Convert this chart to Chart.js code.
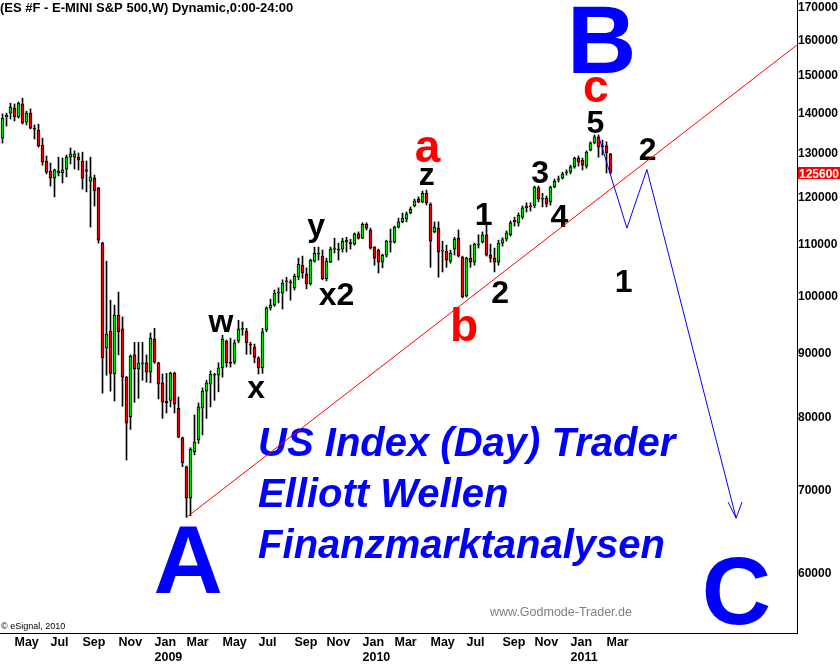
<!DOCTYPE html>
<html>
<head>
<meta charset="utf-8">
<title>E-MINI S&amp;P 500 Wochenchart</title>
<script src="https://cdn.jsdelivr.net/npm/chart.js@4.4.0/dist/chart.umd.min.js"></script>
<style>
  body { margin: 0; background: #fff; }
  #wrap { width: 840px; height: 664px; }
</style>
</head>
<body>
<div id="wrap"><canvas id="myChart" width="840" height="664"></canvas></div>
<script>
// Wochenkerzen, erste Kerze = Woche vom 14.04.2008
const startWoche = Date.UTC(2008, 3, 14);

const opens = [
  133800,139100,140100,141400,139100,142500,137800,140100,136100,135800,
  132100,128300,125900,124300,125500,125500,126400,129200,129200,129200,
  128300,126200,123600,124300,122100,110300,90900,93800,86700,96600,
  94200,86200,80100,89800,87500,88300,88500,87000,92400,88500,
  85300,82500,82600,86800,81400,77100,73100,69000,75100,76800,
  81400,84000,85100,86500,86500,87700,92100,88500,88600,92100,
  94100,93800,91600,91100,89300,87700,94000,97900,98400,100600,
  100600,102700,102700,101600,103600,105900,104200,102300,106700,108100,
  107700,103300,106500,109100,109100,109100,110500,110300,110100,112200,
  111300,114200,113000,109500,108900,106500,107900,110500,110500,113600,
  114700,115300,116600,118100,119600,119000,120900,118500,112600,113400,
  108700,108700,106700,109100,111300,107500,100100,107300,106500,109900,
  110500,112000,107900,107300,106500,110300,111100,112000,115100,114500,
  115700,117700,118100,118100,122100,119600,119800,119000,122300,123900,
  124300,125500,125700,126900,129000,128500,127100,130900,132600,134100,
  131900,131900,130000
];
const highs = [
  139900,140100,142700,142500,143000,144000,140600,141200,137100,137300,
  133800,129500,127800,126400,129200,129000,129700,131400,130700,130200,
  130400,128300,129200,125000,122200,110500,106700,99300,98400,100800,
  96300,86300,89800,91900,91900,91900,89800,93500,94300,88600,
  86700,86800,87000,87000,83100,77200,73200,75700,80400,82200,
  84500,85700,87200,86800,88500,93100,92300,92600,92300,95700,
  95400,94300,91900,91600,89500,94300,98100,99500,101200,101600,
  103100,103600,103100,104200,107300,107700,105400,107100,109500,109500,
  108900,107300,109500,111300,110300,111300,111500,111100,112400,112600,
  114500,114500,113400,109600,109100,108100,110900,113200,113800,115500,
  116600,116800,117900,119600,120100,121400,121600,118800,114700,114700,
  110700,109900,108900,111500,113000,107700,107500,109900,110300,112000,
  112600,114000,110100,109300,110900,111400,112800,114900,115700,116600,
  118100,118800,118800,122500,122500,120900,120300,122500,124100,124800,
  125700,126200,127300,129200,129500,129000,130700,132900,134600,134600,
  133300,132900,130100
];
const lows = [
  132600,136800,138600,138100,138800,137300,137100,136100,133600,131600,
  127300,125300,122500,120100,124800,123200,124600,127600,126400,126200,
  121800,121200,113600,118100,110300,83700,86500,84000,82500,89800,
  81700,74000,78300,82300,82900,85700,85400,85300,88400,82800,
  79900,80700,81600,80700,77100,73100,66600,66800,74700,76300,
  77500,79900,81600,82600,83900,86200,87800,87800,88300,91800,
  93100,89900,89900,88500,86700,86800,93700,97500,98200,98800,
  97700,101000,99300,101200,103100,103400,101400,102100,106500,106900,
  103100,102900,106400,108300,106900,108500,108500,109100,109900,111100,
  111200,113000,109100,105900,104400,105400,107500,108500,110300,113400,
  114500,114700,116400,117900,118800,118800,118300,105500,112400,103600,
  104600,105500,106300,107900,107500,99700,99900,105500,105900,109300,
  110300,107700,106500,104600,105900,109700,110700,111700,113800,113800,
  115300,116800,117000,117700,119000,117900,117900,118300,122100,123400,
  124100,125000,125300,126600,127100,126200,126600,130700,132400,129200,
  129700,125500,125300
];
const closes = [
  138800,139600,141700,139100,142700,137600,140100,136300,136000,131900,
  128000,125700,124300,126200,125900,126200,129200,130000,130000,128500,
  124300,125900,124600,121400,110900,89300,93300,86800,96600,93700,
  86200,79200,89600,87500,88500,88500,87000,92600,88600,85100,
  82300,82200,86800,82000,77200,73600,69000,75500,76500,81600,
  84000,85300,86700,86700,87700,92400,88500,88400,91800,94200,
  94200,91800,91400,89400,87700,93700,97900,98400,100600,100800,
  102500,102900,102500,103800,106100,104400,102300,106900,108300,108300,
  103300,106700,109100,109300,108900,110700,110900,110200,112200,111300,
  114200,113400,109300,107300,106500,107900,110700,110700,113600,114700,
  115500,116400,117400,119200,119000,120900,118800,110700,113600,108500,
  108900,106900,108300,111100,107700,99900,107300,106500,110100,110100,
  112000,107900,107300,106500,110300,111000,112400,114500,114700,116100,
  117700,118100,117900,122300,119600,119800,118500,122300,123600,124100,
  125300,125700,126900,129000,128000,127300,130400,132600,134100,131600,
  131700,130200,125600
];

// Achsen
const yTicks = [60000,70000,80000,90000,100000,110000,120000,130000,140000,150000,160000,170000];
const monatNamen = ["May","Jul","Sep","Nov","Jan","Mar","May","Jul","Sep","Nov","Jan","Mar","May","Jul","Sep","Nov","Jan","Mar"];
const monatNr    = [4,6,8,10,0,2,4,6,8,10,0,2,4,6,8,10,0,2];
const monatJahr  = [2008,2008,2008,2008,2009,2009,2009,2009,2009,2009,2010,2010,2010,2010,2010,2010,2011,2011];

// Elliott-Zaehlung (x = Wochenindex, y = Kurs)
const welleText = ["A","B","C","a","b","c","5","z","y","x2","w","x","1","2","3","4","2","1"];
const welleX = [46.4,149.8,183.5,106.25,115.4,148.3,148.2,106.05,78.4,83.5,54.6,63.4,120.3,124.4,134.4,139.25,161.3,155.3];
const welleY = [57900,150900,54730,128100,92110,143000,135000,122730,111750,98420,93710,82940,114030,98730,123260,113540,128510,100810];
const welleArt = ["gross","gross","gross","abc","abc","abc","klein","klein","klein","klein","klein","klein","klein","klein","klein","klein","klein","klein"];

const werbeText = ["US Index (Day) Trader","Elliott Wellen","Finanzmarktanalysen"];
const werbeX = [63.9,63.9,63.9];
const werbeY = [74550,67870,61790];

// Trendlinie und Prognose
const trendX = [46, 198.6];
const trendY = [66600, 158800];
const prognoseX = [149.05, 156.1, 161.1, 183.4];
const prognoseY = [134200, 113400, 126300, 66500];
const pfeilX = [181.4, 183.4, 184.9];
const pfeilY = [68500, 66500, 68500];

const letzterKurs = closes[closes.length - 1];

// Monatsticks: erster Montag im Monat
const monatTicks = monatNr.map(function (m, i) {
  const d = new Date(Date.UTC(monatJahr[i], m, 1));
  const plus = (8 - d.getUTCDay()) % 7;
  return Math.round((d.getTime() + plus * 86400000 - startWoche) / (7 * 86400000));
});

const gruen = "#00dd00";
const rot = "#ee0000";
const schrift = "'Liberation Sans', Arial, sans-serif";
Chart.defaults.font.family = schrift;

const stile = {
  gross: { font: "bold 96px " + schrift, color: "#0000ff" },
  abc:   { font: "bold 46px " + schrift, color: "#ff0000" },
  klein: { font: "bold 32px " + schrift, color: "#000000" }
};

function schreibe(ctx, text, x, y, font, farbe, align) {
  ctx.font = font;
  ctx.fillStyle = farbe;
  ctx.textAlign = align || "center";
  ctx.textBaseline = "alphabetic";
  ctx.fillText(text, x, y);
}

const deko = {
  id: "deko",
  beforeDatasetsDraw(chart) {
    const ctx = chart.ctx;
    const xs = chart.scales.x, ys = chart.scales.y;
    const ca = chart.chartArea;
    ctx.save();
    schreibe(ctx, "(ES #F - E-MINI S&P 500,W) Dynamic,0:00-24:00", ca.left, 12, "bold 13px " + schrift, "#000", "left");
    for (let i = 0; i < welleText.length; i++) {
      const st = stile[welleArt[i]];
      schreibe(ctx, welleText[i], xs.getPixelForValue(welleX[i]), ys.getPixelForValue(welleY[i]), st.font, st.color);
    }
    for (let i = 0; i < werbeText.length; i++) {
      schreibe(ctx, werbeText[i], xs.getPixelForValue(werbeX[i]), ys.getPixelForValue(werbeY[i]),
        "italic bold 40px " + schrift, "#0000ff", "left");
    }
    schreibe(ctx, "www.Godmode-Trader.de", 490, ca.bottom - 17, "12.5px " + schrift, "#808080", "left");
    schreibe(ctx, "\u00a9 eSignal, 2010", ca.left + 1, ca.bottom - 4, "9px " + schrift, "#000", "left");
    ctx.restore();
  },
  afterDraw(chart) {
    const ctx = chart.ctx;
    const ys = chart.scales.y;
    const py = Math.round(ys.getPixelForValue(letzterKurs));
    ctx.save();
    ctx.fillStyle = "#ff0000";
    ctx.fillRect(ys.left + 1, py - 6, ys.width, 12);
    schreibe(ctx, String(letzterKurs), ys.left + 2, py + 4.5, "bold 12px " + schrift, "#fff", "left");
    ctx.restore();
  }
};

const dochte = opens.map(function (o, i) { return { x: i, y: [lows[i], highs[i]] }; });
const koerper = opens.map(function (o, i) { return { x: i, y: [o, closes[i]] }; });
const koerperFarbe = opens.map(function (o, i) { return closes[i] >= o ? gruen : rot; });

const punkte = function (xa, ya) { return xa.map(function (x, i) { return { x: x, y: ya[i] }; }); };

const lineChart = document.getElementById("myChart");
let myChart = new Chart(lineChart, {
  type: "bar",
  data: {
    datasets: [
      { label: "Docht", data: dochte, backgroundColor: "#000", barThickness: 1, grouped: false, order: 3 },
      { label: "Kerze", data: koerper, backgroundColor: koerperFarbe, borderColor: "#000", borderWidth: 1,
        borderSkipped: false, barThickness: 3, minBarLength: 1, grouped: false, order: 2 },
      { type: "line", label: "Trend", data: punkte(trendX, trendY), borderColor: "#ff0000", borderWidth: 1,
        pointRadius: 0, tension: 0, order: 1 },
      { type: "line", label: "Prognose", data: punkte(prognoseX, prognoseY), borderColor: "#0000ff", borderWidth: 1,
        pointRadius: 0, tension: 0, order: 1 },
      { type: "line", label: "Pfeil", data: punkte(pfeilX, pfeilY), borderColor: "#0000ff", borderWidth: 1,
        pointRadius: 0, tension: 0, order: 1 }
    ]
  },
  options: {
    responsive: false,
    animation: false,
    devicePixelRatio: 1,
    layout: { padding: 0 },
    plugins: { legend: { display: false }, tooltip: { enabled: false } },
    scales: {
      x: {
        type: "linear",
        offset: false,
        bounds: "data",
        min: -0.625,
        max: 198.625,
        grid: { display: false, drawTicks: false, tickLength: 0 },
        border: { display: true, color: "#000", width: 1 },
        afterBuildTicks: function (s) { s.ticks = monatTicks.map(function (v) { return { value: v }; }); },
        afterFit: function (s) { s.height = 31; s.paddingLeft = 0; s.paddingRight = 0; },
        ticks: {
          autoSkip: false,
          maxRotation: 0,
          minRotation: 0,
          align: "start",
          padding: 2,
          color: "#000",
          font: { size: 12.5, weight: "bold", lineHeight: 1.2 },
          callback: function (v, i) {
            return monatNamen[i] === "Jan" ? [monatNamen[i], String(monatJahr[i])] : monatNamen[i];
          }
        }
      },
      y: {
        type: "logarithmic",
        position: "right",
        bounds: "data",
        min: 53832,
        max: 172520,
        grid: { display: false, drawTicks: false, tickLength: 0 },
        border: { display: true, color: "#000", width: 1 },
        afterBuildTicks: function (s) { s.ticks = yTicks.map(function (v) { return { value: v }; }); },
        afterFit: function (s) { s.width = 43; s.paddingTop = 0; s.paddingBottom = 0; },
        ticks: {
          autoSkip: false,
          padding: 1,
          color: "#000",
          font: { size: 12, weight: "bold" },
          callback: function (v) { return String(v); }
        }
      }
    }
  },
  plugins: [deko]
});
</script>
</body>
</html>
